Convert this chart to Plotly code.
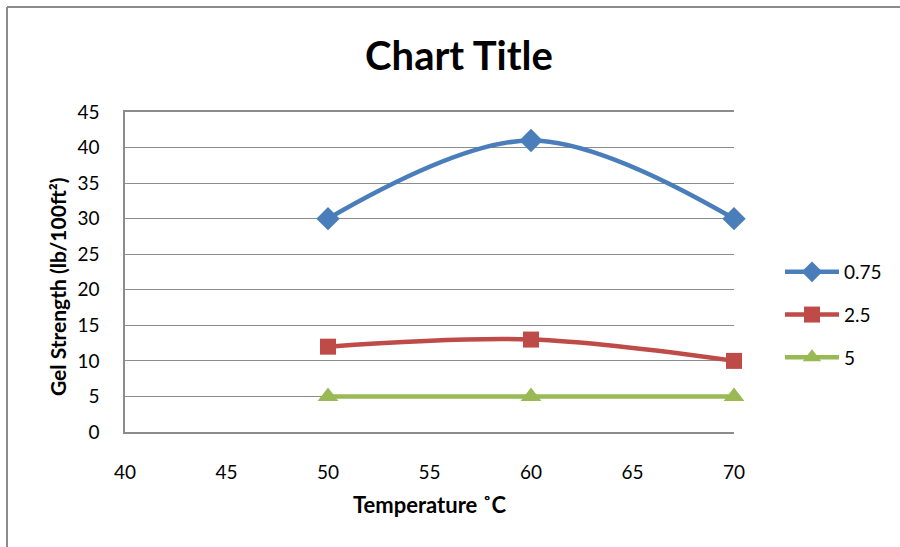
import plotly.graph_objects as go

temperature = [50, 60, 70]
series_names = ["0.75", "2.5", "5"]
s_075 = [30, 41, 30]
s_25 = [12, 13, 10]
s_5 = [5, 5, 5]
x_ticks = [40, 45, 50, 55, 60, 65, 70]
y_ticks = [0, 5, 10, 15, 20, 25, 30, 35, 40, 45]

colors = ["#4A7EBB", "#BE4B48", "#98B954"]
symbols = ["diamond", "square", "triangle-up"]
sizes = [18, 16, 18]
FONT = "Lato, Open Sans, sans-serif"

fig = go.Figure()
for i, (name, ys) in enumerate(zip(series_names, [s_075, s_25, s_5])):
    fig.add_trace(go.Scatter(
        x=temperature, y=ys, name=name, mode="lines+markers",
        line=dict(color=colors[i], width=4.5, shape="spline", smoothing=1.0),
        marker=dict(symbol=symbols[i], size=sizes[i], color=colors[i]),
        legendgroup=name, cliponaxis=False,
    ))

fig.update_layout(
    width=900, height=547,
    paper_bgcolor="white", plot_bgcolor="white",
    margin=dict(l=125, r=166, t=112, b=115),
    font=dict(family=FONT, size=18, color="#000000"),
    title=dict(text="<b>Chart Title</b>", x=459 / 900, xref="container", xanchor="center",
               y=1 - 56 / 547, yref="container", yanchor="middle",
               font=dict(family=FONT, size=40, color="#000000")),
    xaxis=dict(range=[40, 70], tickvals=x_ticks, ticktext=[str(v) for v in x_ticks],
               showgrid=False, showline=True, linecolor="#8C8C8C", linewidth=1.5,
               mirror=True, zeroline=False, ticks="",
               ticklabelstandoff=22, tickfont=dict(size=19),
               title=dict(text="<b>Temperature ˚C</b>", font=dict(family=FONT, size=22), standoff=16)),
    yaxis=dict(range=[0, 45], tickvals=y_ticks, ticktext=[str(v) for v in y_ticks],
               showgrid=True, gridcolor="#8C8C8C", gridwidth=1.3,
               showline=True, linecolor="#8C8C8C", linewidth=1.5, zeroline=False,
               ticks="", ticklabelstandoff=20, tickfont=dict(size=19)),
    legend=dict(x=780 / 900, xref="container", y=1 - 253 / 547, yref="container",
                xanchor="left", yanchor="top", tracegroupgap=15,
                font=dict(family=FONT, size=19), itemwidth=54, bgcolor="rgba(0,0,0,0)"),
    showlegend=True,
)

# y axis title, placed as in the reference
fig.add_annotation(text="<b>Gel Strength (lb/100ft²)</b>", xref="paper", yref="paper",
                   x=(57 - 125) / 609, y=(432 - 287) / 320, textangle=-90,
                   showarrow=False, xanchor="center", yanchor="middle",
                   font=dict(family=FONT, size=21, color="#000000"))

# outer chart border (top and left edges visible)
fig.add_shape(type="line", xref="paper", yref="paper",
              x0=-118 / 609, x1=1 + 200 / 609, y0=1 + 105 / 320, y1=1 + 105 / 320,
              line=dict(color="#8C8C8C", width=2))
fig.add_shape(type="line", xref="paper", yref="paper",
              x0=-118 / 609, x1=-118 / 609, y0=1 + 105 / 320, y1=-140 / 320,
              line=dict(color="#8C8C8C", width=2))

fig.write_html("out.html")
